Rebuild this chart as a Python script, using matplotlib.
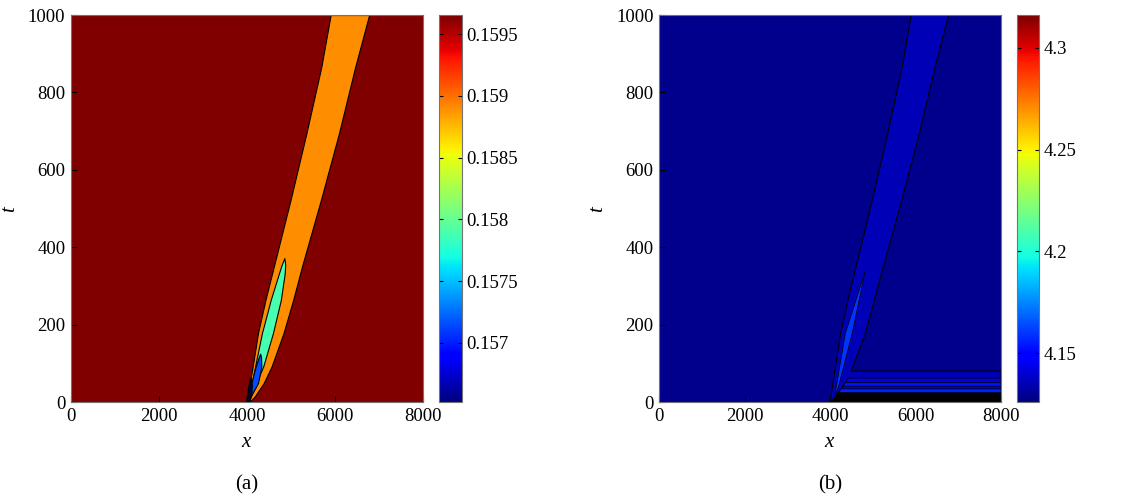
import numpy as np
import matplotlib
matplotlib.use("Agg")
import matplotlib.pyplot as plt
from matplotlib.colors import Normalize
from matplotlib.cm import ScalarMappable
from matplotlib.ticker import FormatStrFormatter

plt.rcParams['font.family'] = ['Liberation Serif', 'DejaVu Serif']
plt.rcParams['mathtext.fontset'] = 'custom'
plt.rcParams['mathtext.it'] = 'Liberation Serif:italic'

# ---- colour scales ----
a_range = (0.156522, 0.159654)
a_ticks = [0.157, 0.1575, 0.158, 0.1585, 0.159, 0.1595]
b_range = (4.1259, 4.3162)
b_ticks = [4.15, 4.2, 4.25, 4.3]

x_ticks = [0, 2000, 4000, 6000, 8000]
t_ticks = [0, 200, 400, 600, 800, 1000]

# ---- panel (a): contour regions, value + left/right edge x at given t ----
a_background = 0.159654
orange_val = 0.158907
orange_t = [0, 15, 49, 92, 178, 264, 350, 522, 694, 866, 1000]
orange_left = [3995, 4015, 4065, 4130, 4250, 4420, 4610, 4990, 5350, 5690, 5901]
orange_right = [4060, 4180, 4380, 4560, 4830, 5050, 5250, 5680, 6090, 6460, 6776]

cyan_val = 0.157881
cyan_t = [5, 30, 92, 178, 264, 330, 355, 372]
cyan_left = [4030, 4075, 4185, 4340, 4540, 4720, 4790, 4850]
cyan_right = [4050, 4140, 4370, 4590, 4770, 4855, 4870, 4850]

blue_val = 0.157148
blue_t = [5, 49, 92, 115, 125]
blue_left = [4015, 4099, 4198, 4265, 4300]
blue_right = [4040, 4251, 4327, 4320, 4300]

tip_val = 0.15656
tip_t = [0, 20, 45, 62]
tip_left = [3990, 4015, 4045, 4075]
tip_right = [4040, 4090, 4100, 4075]

# ---- panel (b) ----
b_background = 4.1283
band_val = 4.1350
band_left_t = [0, 92, 178, 264, 350, 522, 694, 866, 1000]
band_left_x = [4000, 4130, 4250, 4420, 4610, 4990, 5350, 5690, 5901]
band_right_t = [1000, 866, 694, 522, 350, 178, 80]
band_right_x = [6776, 6460, 6090, 5680, 5250, 4830, 4500]

wedge_val = 4.1600
wedge_t = [15, 178, 337, 178, 40]
wedge_x = [4110, 4360, 4820, 4520, 4200]

stripe_top = [62, 50, 41, 34, 24]
stripe_corner = [4430, 4360, 4310, 4260, 4200]
stripe_foot = [4060, 4050, 4040, 4030, 4020]
stripe_val = [4.1420, 4.1540, 4.1400, 4.1560, None]  # None -> solid black (dense lines)

cmap = plt.get_cmap('jet')
EDGE = dict(edgecolor='k', linewidth=0.8)

fig = plt.figure(figsize=(11.37, 4.97), dpi=100)
ax_a = fig.add_axes([0.0624, 0.1911, 0.3096, 0.7787])
cax_a = fig.add_axes([0.3861, 0.1911, 0.0202, 0.7787])
ax_b = fig.add_axes([0.5796, 0.1911, 0.3008, 0.7787])
cax_b = fig.add_axes([0.8945, 0.1911, 0.0193, 0.7787])

norm_a = Normalize(*a_range)
norm_b = Normalize(*b_range)

# panel (a)
ax_a.set_facecolor(cmap(norm_a(a_background)))
ax_a.fill_betweenx(orange_t, orange_left, orange_right, facecolor=cmap(norm_a(orange_val)), **EDGE)
ax_a.fill_betweenx(cyan_t, cyan_left, cyan_right, facecolor=cmap(norm_a(cyan_val)), **EDGE)
ax_a.fill_betweenx(blue_t, blue_left, blue_right, facecolor=cmap(norm_a(blue_val)), **EDGE)
ax_a.fill_betweenx(tip_t, tip_left, tip_right, facecolor=cmap(norm_a(tip_val)),
                   edgecolor='k', linewidth=1.5)

# panel (b)
ax_b.set_facecolor(cmap(norm_b(b_background)))
band_x = band_left_x + band_right_x + [8000, 8000]
band_t = band_left_t + band_right_t + [80, 0]
ax_b.fill(band_x, band_t, facecolor=cmap(norm_b(band_val)), **EDGE)
for top, corner, foot, val in zip(stripe_top, stripe_corner, stripe_foot, stripe_val):
    fc = 'k' if val is None else cmap(norm_b(val))
    ax_b.fill([foot, corner, 8000, 8000], [0, top, top, 0], facecolor=fc,
              edgecolor='k', linewidth=0.6)
ax_b.fill(wedge_x, wedge_t, facecolor=cmap(norm_b(wedge_val)), edgecolor='k', linewidth=0.5)

for ax, cax, norm, ticks, lab in [(ax_a, cax_a, norm_a, a_ticks, '(a)'),
                                  (ax_b, cax_b, norm_b, b_ticks, '(b)')]:
    ax.set_xlim(0, 8000)
    ax.set_ylim(0, 1000)
    ax.set_xticks(x_ticks)
    ax.set_yticks(t_ticks)
    ax.tick_params(direction='in', length=4, labelsize=13.5, pad=4)
    for s in ax.spines.values():
        s.set_color('0.45')
        s.set_linewidth(0.8)
    ax.set_xlabel('$x$', fontsize=15, labelpad=6)
    ax.set_ylabel('$t$', fontsize=15, labelpad=6)
    ax.text(0.5, -0.215, lab, transform=ax.transAxes, ha='center', va='center', fontsize=15)

    cb = fig.colorbar(ScalarMappable(norm=norm, cmap=cmap), cax=cax)
    cb.set_ticks(ticks)
    cb.ax.yaxis.set_major_formatter(FormatStrFormatter('%g'))
    cb.ax.tick_params(direction='in', length=3, labelsize=13.5, pad=3,
                      left=True, right=True)
    cb.outline.set_edgecolor('0.45')
    cb.outline.set_linewidth(0.8)

fig.savefig('out.png', dpi=100)
